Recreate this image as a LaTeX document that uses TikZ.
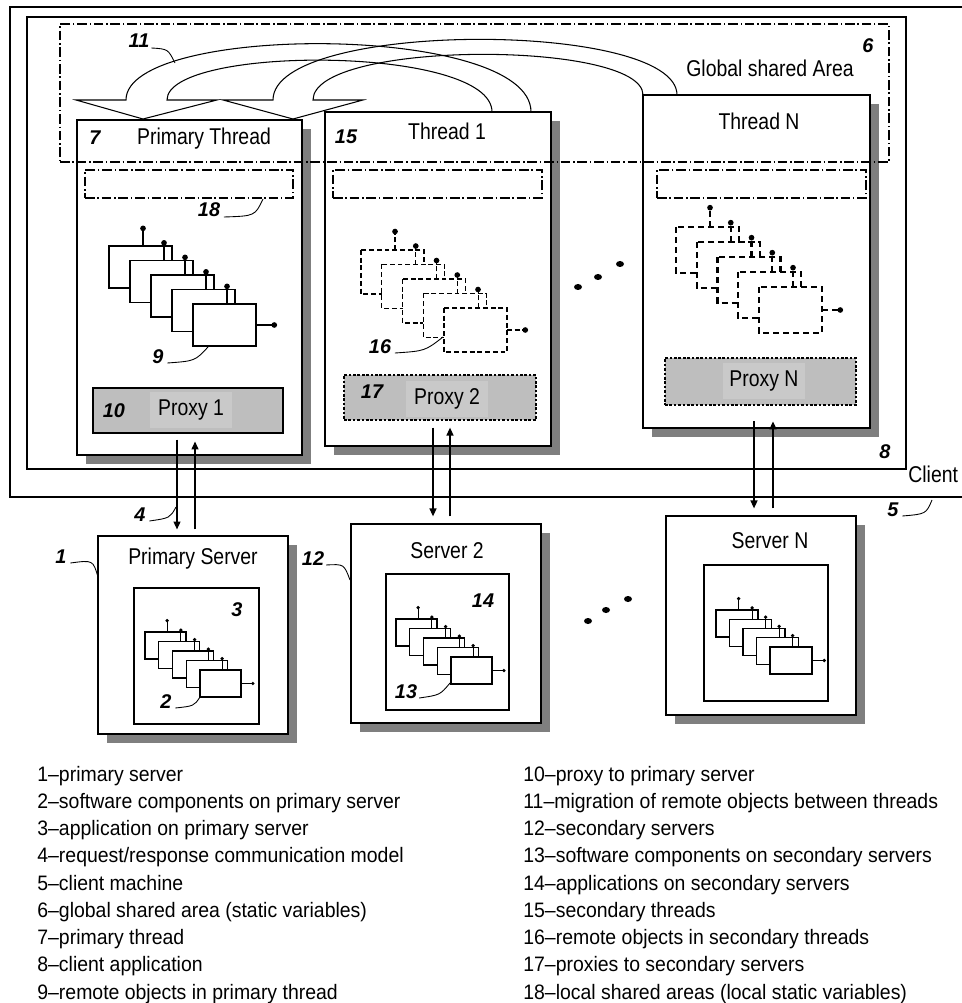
\documentclass[tikz,border=0pt]{standalone}
\usepackage{fontspec}
\setmainfont{Liberation Sans}
\newfontfamily\titlefont{Liberation Sans}[FakeStretch=0.85]
\newfontfamily\keyfont{Liberation Sans}[FakeStretch=0.93]
\usetikzlibrary{positioning,arrows.meta,fit,shadows}
\definecolor{ShadeGray}{HTML}{7F7F7F}
\definecolor{ProxyFill}{HTML}{BEBEBE}
\definecolor{ProxyText}{HTML}{C9C9C9}

\tikzset{
  plainbox/.style={draw, line width=0.7pt, fill=white, inner sep=0pt},
  shadowbox/.style={plainbox, drop shadow={shadow xshift=0.18cm, shadow yshift=-0.18cm, opacity=1, fill=ShadeGray}},
  sharedarea/.style={draw, line width=0.6pt, dash pattern=on 5.5pt off 1.6pt on 0.8pt off 1.6pt, inner sep=0pt},
  proxybox/.style={draw, line width=0.7pt, fill=ProxyFill, inner sep=0pt},
  proxylabel/.style={fill=ProxyText, inner sep=0pt, minimum width=1.64cm, minimum height=0.72cm, font=\titlefont\fontsize{13}{15}\selectfont},
  title/.style={anchor=base, inner sep=0pt, font=\titlefont\fontsize{13}{15}\selectfont},
  tag/.style={anchor=base, inner sep=0pt, font=\bfseries\itshape\fontsize{11.3}{13}\selectfont},
  keyline/.style={anchor=base west, inner sep=0pt, font=\keyfont\fontsize{11.9}{14}\selectfont},
  leader/.style={line width=0.5pt},
  reqline/.style={line width=0.7pt, -{Triangle[length=4.5pt,width=4pt]}},
  migrate/.style={line width=0.6pt},
  objsolid/.style={line width=0.6pt},
  objdash/.style={line width=0.6pt, dash pattern=on 2.8pt off 1.6pt},
  objbold/.style={line width=1.2pt, dash pattern=on 3.5pt off 2.2pt},
}

% stack of five components: x, y, width, height, step x, step y, line style
\newcommand{\objstack}[7]{%
  \foreach \k in {0,...,4}{%
    \pgfmathsetmacro{\bx}{#1+\k*#5}%
    \pgfmathsetmacro{\by}{#2+\k*#6}%
    \draw[#7, fill=white] (\bx,\by) rectangle ++(#3,#4);
    \draw[#7] (\bx+0.54*#3,\by) -- ++(0,-0.42*#4);
    \fill (\bx+0.54*#3,\by-0.42*#4) circle[radius=0.045*#3];
  }%
  \pgfmathsetmacro{\ox}{#1+4*#5+#3}%
  \pgfmathsetmacro{\oy}{#2+4*#6+0.5*#4}%
  \draw[#7] (\ox,\oy) -- ++(0.29*#3,0);
  \fill (\ox+0.29*#3,\oy) circle[radius=0.045*#3];
}

\begin{document}
\begin{tikzpicture}[x=0.02cm, y=-0.02cm]
  \useasboundingbox (0,0) rectangle (961,1003);
  \fill[white] (0,0) rectangle (961,1003);

  % client machine and client application
  \node[draw, line width=0.7pt, inner sep=0pt, fit={(10,7) (990,497)}] (client) {};
  \node[draw, line width=0.7pt, inner sep=0pt, fit={(27,17) (906,469)}] (clientapp) {};
  \node[title, anchor=base west] (clientlbl) at (908,482) {Client};
  \node[tag] (n8) at (885,458) {8};
  \node[tag] (n5) at (893,516) {5};
  \draw[leader] ([xshift=2pt]n5.base east) .. controls (926,514) .. (932,500);

  % threads
  \node[shadowbox, fit={(77,120) (302,455)}] (thrA) {};
  \node[shadowbox, fit={(325,112) (551,446)}] (thrB) {};
  \node[shadowbox, fit={(643,95) (870,428)}] (thrN) {};
  \node[title] (thrAlbl) at (204,145) {Primary Thread};
  \node[title] (thrBlbl) at (447,140) {Thread 1};
  \node[title] (thrNlbl) at (759,130) {Thread N};
  \node[tag] (n7) at (95,145) {7};
  \node[tag] (n15) at (346,144) {15};

  % global and local shared areas
  \node[sharedarea, fit={(60,24) (889,162)}] (global) {};
  \node[title] (globallbl) at (770,77) {Global shared Area};
  \node[tag] (n6) at (868,53) {6};
  \node[sharedarea, fit={(85,170) (293,198)}] (localA) {};
  \node[sharedarea, fit={(333,170) (542,198)}] (localB) {};
  \node[sharedarea, fit={(657,170) (866,198)}] (localN) {};
  \node[tag] (n18) at (209,217) {18};
  \draw[leader] ([xshift=2pt]n18.base east) .. controls (255,216) .. (263,199);

  % migration between threads
  \draw[migrate] (76,100) -- (126,100) .. controls (126,23) and (531,23) .. (531,112)
    -- (492,112) .. controls (492,45) and (167,45) .. (167,100) -- (217,100) -- (143,119) -- cycle;
  \draw[migrate] (223,100) -- (273,100) .. controls (273,20) and (677,20) .. (677,95)
    -- (643,95) .. controls (643,40) and (313,40) .. (313,100) -- (363,100) -- (293,119) -- cycle;
  \node[tag] (n11) at (139,48) {11};
  \draw[leader] ([xshift=1pt]n11.base east) .. controls (168,49) .. (175,63);

  % remote objects
  \objstack{109}{246}{63}{42}{21}{14.5}{objsolid}
  \objstack{361}{250}{63}{44}{20.75}{14.5}{objdash}
  \objstack{676}{227}{63}{46}{20.75}{15}{objbold}
  \node[tag] (n9) at (158,363) {9};
  \draw[leader] ([xshift=2pt]n9.base east) .. controls (195,361) .. (208,347);
  \node[tag] (n16) at (380,353) {16};
  \draw[leader] ([xshift=2pt]n16.base east) .. controls (425,351) .. (443,337);
  \fill (578,287) ellipse[x radius=4, y radius=3];
  \fill (598,277) ellipse[x radius=4, y radius=3];
  \fill (620,264) ellipse[x radius=4, y radius=3];

  % proxies
  \node[proxybox, fit={(93,388) (283,433)}] (proxyA) {};
  \node[proxybox, dash pattern=on 1.5pt off 1pt, fit={(344,375) (536,420)}] (proxyB) {};
  \node[proxybox, dash pattern=on 1.5pt off 1pt, fit={(665,358) (856,405)}] (proxyN) {};
  \node[proxylabel] (proxyAlbl) at (191,410) {Proxy 1};
  \node[proxylabel] (proxyBlbl) at (447,399) {Proxy 2};
  \node[proxylabel] (proxyNlbl) at (764,381) {Proxy N};
  \node[tag] (n10) at (114,417) {10};
  \node[tag] (n17) at (372,398) {17};

  % servers
  \node[shadowbox, fit={(98,536) (288,734)}] (srvA) {};
  \node[shadowbox, fit={(351,524) (541,723)}] (srvB) {};
  \node[shadowbox, fit={(666,516) (856,715)}] (srvN) {};
  \node[plainbox, fit={(134,588) (259,724)}] (appA) {};
  \node[plainbox, fit={(386,574) (509,710)}] (appB) {};
  \node[plainbox, fit={(704,565) (828,701)}] (appN) {};
  \node[title] (srvAlbl) at (193,564) {Primary Server};
  \node[title] (srvBlbl) at (447,558) {Server 2};
  \node[title] (srvNlbl) at (770,548) {Server N};
  \objstack{145}{632}{41}{27}{13.75}{9.5}{objsolid}
  \objstack{396}{619}{41}{27}{13.75}{9.5}{objsolid}
  \objstack{716}{610}{42}{27}{13.5}{9.25}{objsolid}
  \node[tag] (n1) at (61,563) {1};
  \draw[leader] ([xshift=2pt]n1.base east) .. controls (93,560) .. (98,577);
  \node[tag] (n12) at (313,565) {12};
  \draw[leader] ([xshift=1pt]n12.base east) .. controls (344,564) .. (350,580);
  \node[tag] (n3) at (237,616) {3};
  \node[tag] (n2) at (166,708) {2};
  \draw[leader] ([xshift=2pt]n2.base east) .. controls (194,706) .. (200,697);
  \node[tag] (n14) at (483,607) {14};
  \node[tag] (n13) at (406,698) {13};
  \draw[leader] ([xshift=1pt]n13.base east) .. controls (440,695) .. (450,683);
  \fill (588,621) ellipse[x radius=4, y radius=3];
  \fill (606,610) ellipse[x radius=4, y radius=3];
  \fill (628,599) ellipse[x radius=4, y radius=3];

  % request / response
  \coordinate (dnA) at (177,0);
  \coordinate (upA) at (195,0);
  \coordinate (dnB) at (433,0);
  \coordinate (upB) at (450,0);
  \coordinate (dnN) at (754,0);
  \coordinate (upN) at (773,0);
  \draw[reqline, shorten <=3.4pt, shorten >=3.4pt] (proxyA.south -| dnA) -- (srvA.north -| dnA);
  \draw[reqline, shorten <=3.4pt, shorten >=4.5pt] (srvA.north -| upA) -- (proxyA.south -| upA);
  \draw[reqline, shorten <=4pt, shorten >=4pt] (proxyB.south -| dnB) -- (srvB.north -| dnB);
  \draw[reqline, shorten <=4pt, shorten >=4pt] (srvB.north -| upB) -- (proxyB.south -| upB);
  \draw[reqline, shorten <=9pt, shorten >=4pt] (proxyN.south -| dnN) -- (srvN.north -| dnN);
  \draw[reqline, shorten <=4pt, shorten >=9pt] (srvN.north -| upN) -- (proxyN.south -| upN);
  \node[tag] (n4) at (140,521) {4};
  \draw[leader] ([xshift=2pt]n4.base east) .. controls (170,518) .. (176,507);

  % key
  \foreach \t [count=\i] in {primary server, software components on primary server,
      application on primary server, request/response communication model,
      client machine, global shared area (static variables), primary thread,
      client application, remote objects in primary thread}
    \node[keyline] (key\i) at (37,{781+27.25*(\i-1)}) {\i–\t};
  \foreach \t [count=\i from 10] in {proxy to primary server,
      migration of remote objects between threads, secondary servers,
      software components on secondary servers, applications on secondary servers,
      secondary threads, remote objects in secondary threads,
      proxies to secondary servers, local shared areas (local static variables)}
    \node[keyline] (key\i) at (523,{781+27.25*(\i-10)}) {\i–\t};
\end{tikzpicture}
\end{document}
